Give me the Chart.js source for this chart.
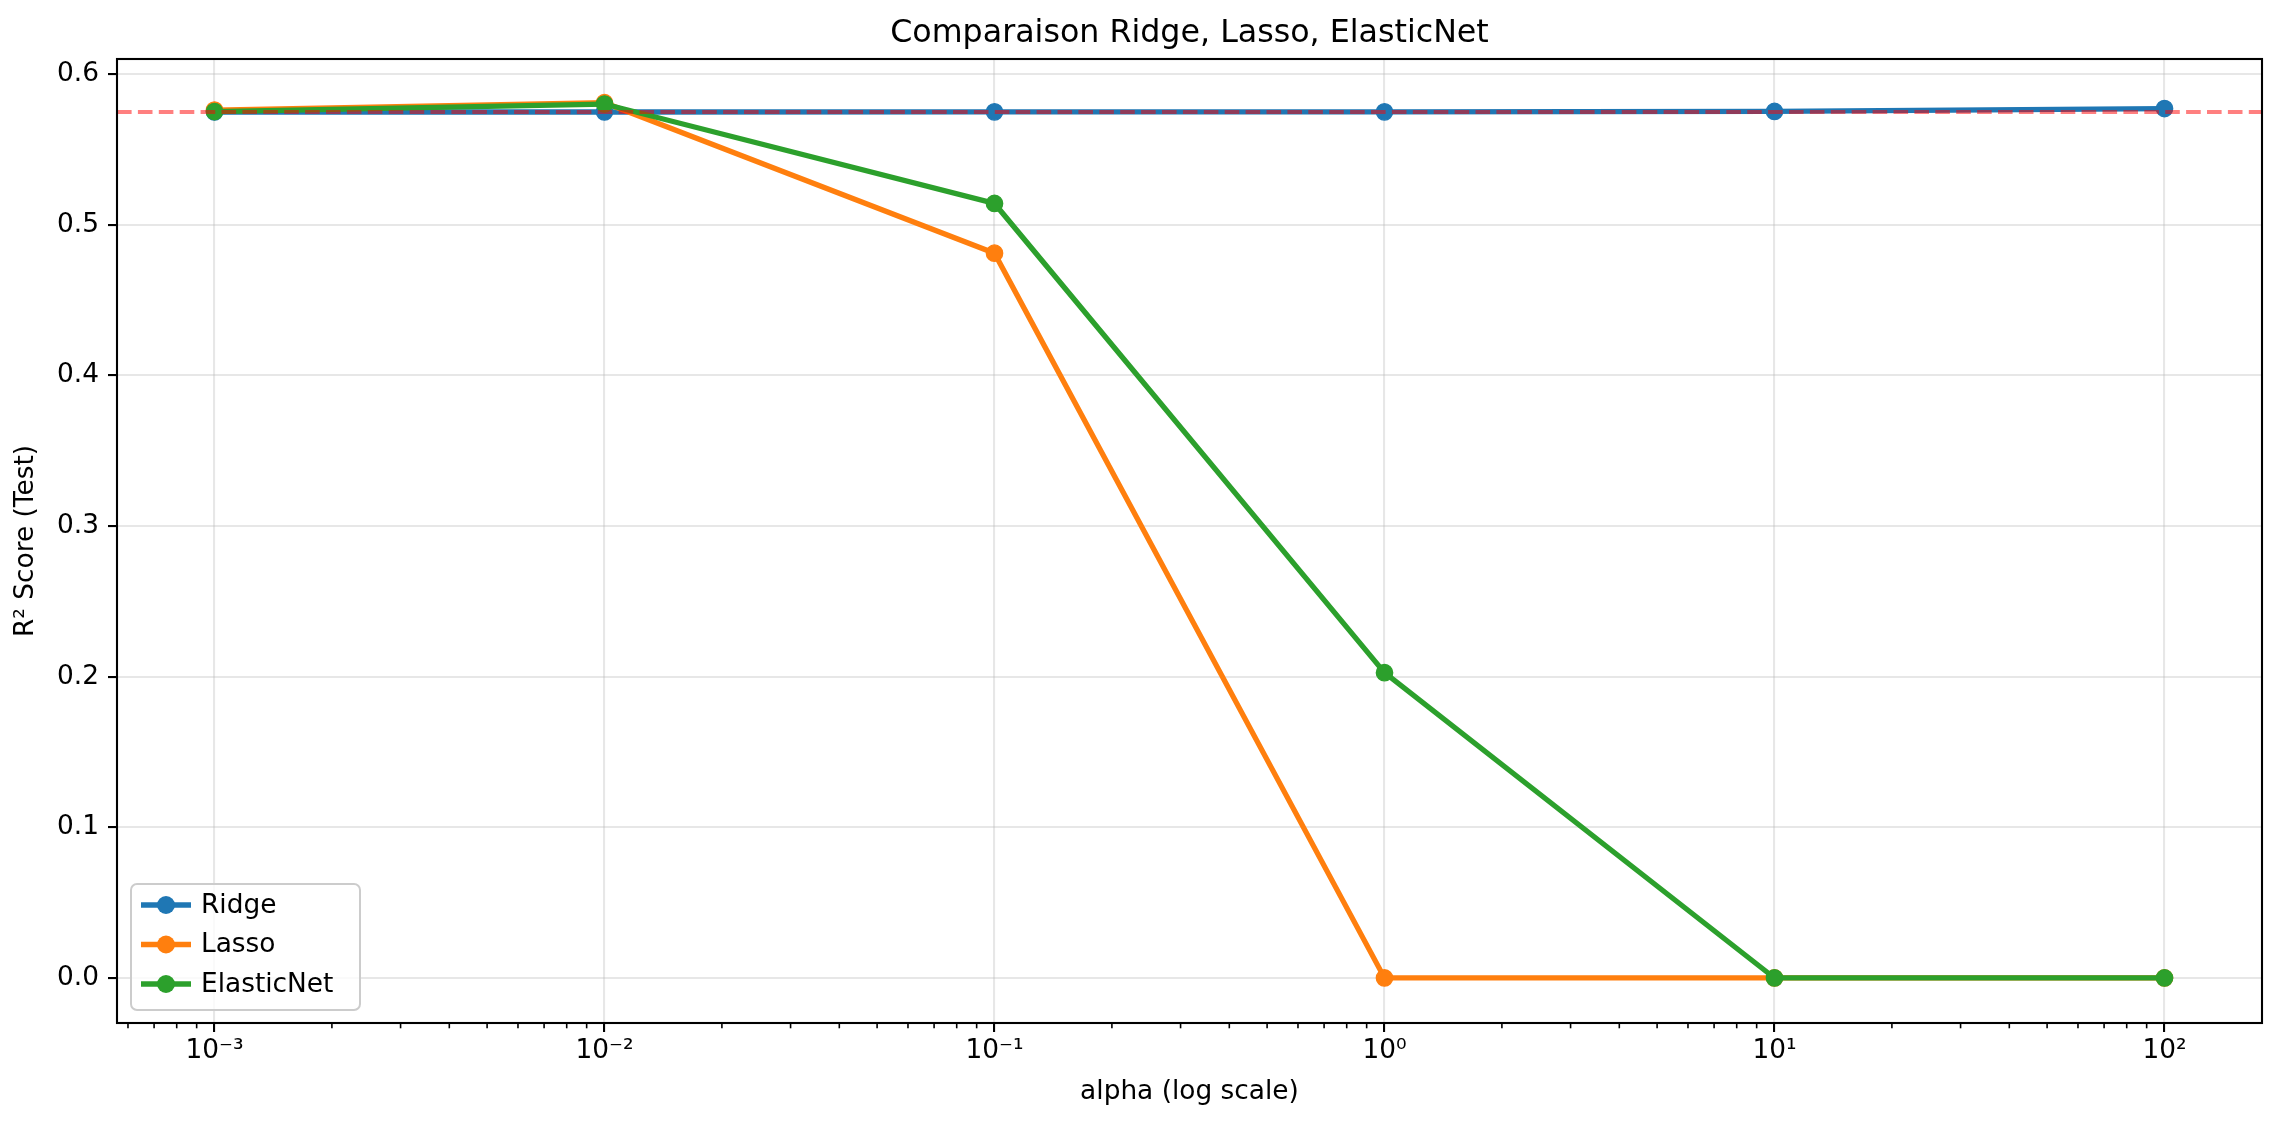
<!DOCTYPE html>
<html>
<head>
<meta charset="utf-8">
<title>Comparaison Ridge, Lasso, ElasticNet</title>
<script src="https://cdn.jsdelivr.net/npm/chart.js@4.4.1/dist/chart.umd.min.js"></script>
<style>
  html, body { margin: 0; padding: 0; background: #fff; }
  canvas { display: block; }
</style>
</head>
<body>
<canvas id="chart" width="2282" height="1126"></canvas>
<script>
// ── Données : R² (test) par valeur d'alpha ──
const alphas = [0.001, 0.01, 0.1, 1, 10, 100];
const ridgeScores = [0.5749, 0.5749, 0.5750, 0.5750, 0.5753, 0.5772];
const lassoScores = [0.5762, 0.5811, 0.4812, 0.0, 0.0, 0.0];
const elasticScores = [0.5752, 0.5802, 0.5142, 0.2027, 0.0, 0.0];
const baselineScore = 0.5749;

const xTicks = [0.001, 0.01, 0.1, 1, 10, 100];
const yTicks = [0.0, 0.1, 0.2, 0.3, 0.4, 0.5, 0.6];

const FONT = 'DejaVu Sans';
const FS = 26.4;         // 10 pt
const FS_TITLE = 31.7;   // 12 pt
const C_BLUE = '#1f77b4', C_ORANGE = '#ff7f0e', C_GREEN = '#2ca02c';

const SUP = { '-': '\u207B', '0': '\u2070', '1': '\u00B9', '2': '\u00B2', '3': '\u00B3',
  '4': '\u2074', '5': '\u2075', '6': '\u2076', '7': '\u2077', '8': '\u2078', '9': '\u2079' };
function fmtPow(v) {
  const e = String(Math.round(Math.log10(v)));
  return '10' + e.split('').map((c) => SUP[c]).join('');
}

function serie(label, values, color, order) {
  return {
    label,
    data: alphas.map((a, i) => ({ x: a, y: values[i] })),
    borderColor: color,
    backgroundColor: color,
    borderWidth: 5.3,
    pointRadius: 8.2,
    pointHoverRadius: 8.2,
    pointBorderWidth: 1.3,
    pointBackgroundColor: color,
    pointBorderColor: color,
    tension: 0,
    order
  };
}

// ligne horizontale de référence (pointillés rouges)
const baseline = {
  id: 'baseline',
  afterDatasetsDraw(chart) {
    const { ctx, chartArea: a, scales } = chart;
    const y = scales.y.getPixelForValue(baselineScore);
    ctx.save();
    ctx.strokeStyle = 'rgba(255,0,0,0.5)';
    ctx.lineWidth = 4;
    ctx.setLineDash([14.6, 6.3]);
    ctx.beginPath(); ctx.moveTo(a.left, y); ctx.lineTo(a.right, y); ctx.stroke();
    ctx.restore();
  }
};

// cadre complet autour de la zone de tracé
const frame = {
  id: 'frame',
  afterDatasetsDraw(chart) {
    const { ctx, chartArea: a } = chart;
    ctx.save();
    ctx.strokeStyle = '#000';
    ctx.lineWidth = 2.1;
    ctx.strokeRect(a.left, a.top, a.right - a.left, a.bottom - a.top);
    ctx.restore();
  }
};

// petites graduations mineures de l'axe log
const minorTicks = {
  id: 'minorTicks',
  afterDraw(chart) {
    const xs = chart.scales.x, ctx = chart.ctx, y0 = chart.chartArea.bottom;
    ctx.save();
    ctx.strokeStyle = '#000';
    ctx.lineWidth = 1.6;
    for (let e = -4; e <= 2; e++) {
      for (let k = 2; k <= 9; k++) {
        const v = k * Math.pow(10, e);
        if (v < xs.min || v > xs.max) continue;
        const px = xs.getPixelForValue(v);
        ctx.beginPath(); ctx.moveTo(px, y0); ctx.lineTo(px, y0 + 5.3); ctx.stroke();
      }
    }
    ctx.restore();
  }
};

// légende en bas à gauche, dans la zone de tracé
const innerLegend = {
  id: 'innerLegend',
  afterDraw(chart) {
    const ctx = chart.ctx, a = chart.chartArea;
    const x0 = a.left + 14, y0 = 884, w = 229, h = 126;
    ctx.save();
    ctx.fillStyle = 'rgba(255,255,255,0.8)';
    ctx.strokeStyle = '#cccccc';
    ctx.lineWidth = 2;
    ctx.beginPath();
    ctx.roundRect(x0, y0, w, h, 6);
    ctx.fill(); ctx.stroke();
    ctx.font = `${FS}px "${FONT}"`;
    ctx.textBaseline = 'middle';
    chart.data.datasets.forEach((ds, i) => {
      const y = y0 + 21 + i * 39.5;
      ctx.strokeStyle = ds.borderColor;
      ctx.lineWidth = 5.3;
      ctx.beginPath(); ctx.moveTo(x0 + 10, y); ctx.lineTo(x0 + 60, y); ctx.stroke();
      ctx.fillStyle = ds.borderColor;
      ctx.beginPath(); ctx.arc(x0 + 35, y, 9, 0, Math.PI * 2); ctx.fill();
      ctx.fillStyle = '#000';
      ctx.fillText(ds.label, x0 + 70, y + 1);
    });
    ctx.restore();
  }
};

new Chart(document.getElementById('chart'), {
  type: 'line',
  data: {
    datasets: [
      serie('Ridge', ridgeScores, C_BLUE, 3),
      serie('Lasso', lassoScores, C_ORANGE, 2),
      serie('ElasticNet', elasticScores, C_GREEN, 1)
    ]
  },
  options: {
    responsive: false,
    devicePixelRatio: 1,
    animation: false,
    events: [],
    layout: { padding: { left: 0, right: 20, top: 0, bottom: 0 } },
    plugins: {
      legend: { display: false },
      tooltip: { enabled: false },
      title: {
        display: true,
        fullSize: false,
        text: 'Comparaison Ridge, Lasso, ElasticNet',
        color: '#000',
        font: { family: FONT, size: FS_TITLE, weight: 'normal', lineHeight: 1.2 },
        padding: { top: 15, bottom: 5.96 }
      }
    },
    scales: {
      x: {
        type: 'logarithmic',
        min: Math.pow(10, -3.25),
        max: Math.pow(10, 2.25),
        afterBuildTicks: (s) => { s.ticks = xTicks.map((v) => ({ value: v, major: true })); },
        afterFit: (s) => { s.height = 103; },
        border: { display: false },
        grid: { color: 'rgba(176,176,176,0.3)', lineWidth: 2.1, tickColor: '#000', tickWidth: 2.1, tickLength: 9 },
        ticks: {
          autoSkip: false, maxRotation: 0, padding: 3, color: '#000',
          font: { family: FONT, size: FS },
          callback: (v) => fmtPow(v)
        },
        title: {
          display: true, text: 'alpha (log scale)', color: '#000',
          font: { family: FONT, size: FS }, padding: { top: 0, bottom: 18 }
        }
      },
      y: {
        min: -0.0299,
        max: 0.6101,
        afterBuildTicks: (s) => { s.ticks = yTicks.map((v) => ({ value: v })); },
        afterFit: (s) => { s.width = 117; },
        border: { display: false },
        grid: { color: 'rgba(176,176,176,0.3)', lineWidth: 2.1, tickColor: '#000', tickWidth: 2.1, tickLength: 9 },
        ticks: {
          padding: 9, color: '#000',
          font: { family: FONT, size: FS },
          callback: (v) => Number(v).toFixed(1)
        },
        title: {
          display: true, text: 'R² Score (Test)', color: '#000',
          font: { family: FONT, size: FS }, padding: { top: 10, bottom: 0 }
        }
      }
    }
  },
  plugins: [baseline, frame, minorTicks, innerLegend]
});
</script>
</body>
</html>
